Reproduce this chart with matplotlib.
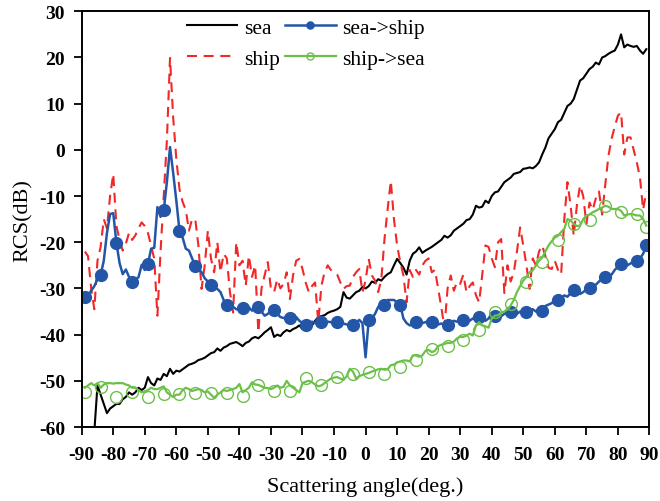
import numpy as np
import matplotlib
matplotlib.use("Agg")
import matplotlib.pyplot as plt

plt.rcParams['font.family'] = ['Liberation Serif', 'DejaVu Serif']
plt.rcParams['axes.unicode_minus'] = False

# scattering angle, 1 degree steps
angle = np.arange(-89, 90)

# RCS of the sea surface alone (dB)
sea = [
    -75, -72, -68, -61, -51, -53, -55, -57, -56, -55.5,      # -89..-80
    -55, -55, -54, -53.5, -52.5, -53, -52.5, -51.5, -52, -51.5,   # -79..-70
    -49.2, -50.5, -51, -49.5, -49.8, -48.5, -49, -47.4, -48.5, -47.8,  # -69..-60
    -48, -47.5, -47, -46.5, -46.3, -46, -45.5, -45.3, -45, -44.5,  # -59..-50
    -44, -43.8, -43, -43.5, -42.8, -42.5, -42, -41.8, -41.6, -42,  # -49..-40
    -42.5, -41.8, -41.5, -40.8, -40.5, -40.8, -40.2, -39.5, -39, -38.4,  # -39..-30
    -40.5, -40, -40.3, -39.5, -39, -39.3, -38.8, -38.5, -38, -38.8,  # -29..-20
    -37.5, -37, -38, -37, -36.2, -36, -35.8, -35.3, -35, -34.8,  # -19..-10
    -34.5, -34, -30.8, -32, -32.2, -31.5, -30.8, -30.5, -29.7, -30,  # -9..0
    -29.5, -28.5, -28.8, -28, -28.3, -27.5, -26.9, -26.5, -25, -23.6,  # 1..10
    -24.5, -25.5, -27, -24, -22.5, -22, -21.1, -22.3, -21.8, -21.4,  # 11..20
    -21, -20.5, -20, -19.5, -18.6, -19, -18.5, -17.5, -17, -16.5,  # 21..30
    -16, -15.2, -15, -14, -12.1, -12.5, -12.3, -11, -11.5, -10,  # 31..40
    -9.2, -9, -8, -7, -6.5, -6, -5.2, -5, -4.8, -4.1,  # 41..50
    -4, -3.8, -4, -3.5, -2.7, -1, 0.5, 2.5, 3.5, 4.5,  # 51..60
    6, 6.5, 8, 9.5, 10, 11, 13, 15, 15.5, 16.5,  # 61..70
    17.5, 18, 18.9, 18.5, 20, 20.3, 20.8, 21.2, 21.5, 22.8,  # 71..80
    25, 22.2, 22.8, 22.5, 22.3, 22.5, 21.5, 20.8, 21.8,  # 81..89
]

# RCS of the ship alone (dB)
ship = [
    -22, -23, -30, -34.5, -24, -21, -15, -17, -10, -5.2,  # -89..-80
    -16.4, -19.5, -21.8, -20.3, -18, -19.5, -18.5, -17, -15.7, -16.5,  # -79..-70
    -18, -20.7, -23.6, -35.9, -22, -10, 2, 19.9, 7, -2,  # -69..-60
    -8.5, -11.3, -13, -17.5, -15, -15, -20.7, -30.1, -25, -17.5,  # -59..-50
    -23.6, -26.5, -20, -26.5, -22.5, -23.5, -30.8, -35.2, -20, -25,  # -49..-40
    -24, -29.4, -22.9, -27.5, -25, -39.5, -30, -27.2, -24.3, -30.1,  # -39..-30
    -30.8, -28, -30, -29, -26.5, -32.3, -27.2, -24, -23.6, -25.8,  # -29..-20
    -28.7, -30.8, -29.5, -28.7, -37.3, -29.4, -26.5, -25, -26, -26.5,  # -19..-10
    -27, -28.7, -30.1, -29.5, -29.4, -27.5, -26.5, -25.8, -30.8, -28.3,  # -9..0
    -23.6, -27.2, -28.3, -30.8, -28, -19.3, -12.8, -6.7, -15, -20.7,  # 1..10
    -24.3, -27.2, -33, -26, -27.5, -26, -27, -25, -24, -23.5,  # 11..20
    -26.5, -26, -30, -34, -38.5, -30, -27.2, -30.5, -28.5, -29,  # 21..30
    -27, -30.8, -29.5, -28.7, -31.5, -33, -27, -20.7, -21, -23.5,  # 31..40
    -25.4, -20, -19.3, -31, -25, -28.5, -26.5, -22, -16.8, -20.7,  # 41..50
    -25, -30.1, -23.5, -25, -22, -20.7, -23, -25.5, -25.8, -24,  # 51..60
    -26, -27, -15, -7, -12, -18.6, -12, -7.7, -10, -16,  # 61..70
    -11.4, -13, -10.5, -9, -14, -7.5, -1.3, 2.4, 5, 7.4,  # 71..80
    8.1, -1, 2.7, 2.7, 0, -2.7, -6, -13, -9,  # 81..89
]

# sea->ship coupling term (dB)
sea_ship = [
    -31.9, -31.5, -30.5, -29.5, -28, -27.1, -24, -18, -13.9, -13.7,  # -89..-80
    -20.1, -24.5, -26.9, -25.9, -27.5, -28.5, -28, -27.6, -24.9, -26,  # -79..-70
    -24.7, -21.4, -21.2, -12.4, -14.5, -13.1, -7, 0.6, -5, -11,  # -69..-60
    -17.5, -19, -21.4, -21.8, -23.5, -25.1, -25.8, -26.5, -27.8, -28.5,  # -59..-50
    -29.2, -30, -30.1, -30.8, -32.5, -33.6, -33.8, -34, -34.5, -34.6,  # -49..-40
    -34.3, -34.5, -34.1, -34.8, -34.5, -34.1, -35, -35.9, -35.5, -35,  # -39..-30
    -34.6, -35.5, -36.2, -36.4, -36.3, -36.5, -36.5, -36.2, -37, -37.5,  # -29..-20
    -38, -37.5, -37.2, -37.5, -37.4, -37.3, -37.5, -37.2, -37.3, -37.4,  # -19..-10
    -37.3, -37.5, -37.6, -37.8, -37.9, -38, -37.5, -36.8, -37.5, -44.9,  # -9..0
    -36.8, -36.5, -35.5, -34, -33.5, -33.6, -32.5, -32.5, -32.5, -33,  # 1..10
    -33.6, -36.5, -37.5, -38, -37.8, -37.3, -37.2, -37.5, -37.3, -37,  # 11..20
    -37.2, -37.5, -37.8, -37.6, -37.8, -38, -37.5, -37, -37.2, -37,  # 21..30
    -36.8, -36.5, -37, -36.5, -36.8, -36.2, -36.5, -37, -36.5, -35.5,  # 31..40
    -36, -35.5, -36, -35.5, -35.2, -35.2, -35.8, -35.5, -35, -35.3,  # 41..50
    -35.2, -34.8, -34.5, -35, -34.3, -34.8, -33.8, -33.5, -33.2, -32.5,  # 51..60
    -32.6, -32.2, -31.5, -31.8, -31, -30.3, -30.5, -31.2, -30.8, -30.2,  # 61..70
    -30, -29.5, -29.2, -28.5, -28, -27.6, -27.3, -27, -26, -25.3,  # 71..80
    -24.7, -24.8, -25, -24.6, -24.2, -24, -23.5, -22.5, -20.7,  # 81..89
]

# ship->sea coupling term (dB), line
ship_sea = [
    -51.5, -51, -50.5, -51, -50.5, -51.5, -50.8, -50.5, -50.5, -50.6,  # -89..-80
    -50.5, -50.5, -50.5, -50.8, -51, -51.5, -51.5, -52, -52.5, -52.3,  # -79..-70
    -52, -51.5, -51.8, -51.8, -51.5, -51.2, -52.5, -53, -53.5, -53,  # -69..-60
    -53, -52, -51.5, -51.8, -52.2, -52, -51.8, -52, -52.5, -52.3,  # -59..-50
    -53, -53.7, -53, -52.5, -52, -52.2, -52, -51.8, -51.5, -50.7,  # -49..-40
    -52.5, -52, -51.5, -50.3, -50.8, -50.9, -51.2, -51.5, -51.6, -51.8,  # -39..-30
    -51.5, -51, -51.5, -51.3, -50, -51, -51.5, -52, -52.5, -50.5,  # -29..-20
    -50.2, -50, -50.3, -50.8, -51.2, -51, -50.5, -50, -49.5, -49.3,  # -19..-10
    -49.2, -49.5, -49.8, -49, -47.4, -48, -49.5, -49, -48.7, -48.5,  # -9..0
    -48.3, -48, -47.8, -47.5, -47.4, -47.6, -47.5, -46.6, -46.5, -46,  # 1..10
    -45.8, -45.6, -45.6, -45.8, -44.5, -44.5, -44.8, -44.5, -43.5, -43.3,  # 11..20
    -43.8, -43.5, -42.5, -42.2, -42, -41.8, -41.8, -41.5, -40.8, -40.5,  # 21..30
    -40.5, -40.2, -39.8, -40.2, -38, -37.3, -38, -38.2, -38.5, -36.5,  # 31..40
    -35.9, -35.8, -35.2, -35, -34.5, -33.7, -32.5, -30.8, -29.5, -28.3,  # 41..50
    -27.5, -26.5, -26.1, -25, -24, -23.3, -22, -20.7, -19.8, -19,  # 51..60
    -18.6, -17.8, -17.1, -15, -15.3, -16, -16.5, -16.4, -15, -14.2,  # 61..70
    -14, -13.5, -13.2, -12.8, -12.5, -12.1, -12.3, -12.8, -12.8, -12.8,  # 71..80
    -13.2, -14.2, -14, -13.9, -14, -14.2, -14.2, -15, -16.4,  # 81..89
]

# marker angles and the open-circle ship->sea samples
mark_angle = list(range(-89, 87, 5)) + [89]
ship_sea_mk = [
    -52.5, -51.3, -53.5, -52.4, -53.5, -52.8, -52.8, -52.6, -52.7, -52.6,
    -53.2, -51, -52.1, -52.1, -49.4, -51, -49.2, -48.5, -48.1, -48.5,
    -47.1, -45.6, -43.1, -42.4, -41.2, -39.1, -35.2, -33.4, -28.5, -24.2,
    -19.6, -16, -15.1, -12.2, -13.5, -13.9, -16.8,
]

blue = '#2456a8'
green = '#6cc04a'
red = '#f02828'

fig = plt.figure(figsize=(6.6, 5.02), dpi=100)
ax = fig.add_axes([0.1238, 0.1474, 0.8602, 0.8281])

l_sea, = ax.plot(angle, sea, color='black', lw=1.5)
l_ship, = ax.plot(angle, ship, color=red, lw=1.5, dashes=(4.8, 3.2))
l_ss, = ax.plot(angle, sea_ship, color=blue, lw=1.8)
idx = [a + 89 for a in mark_angle]
m_ss, = ax.plot(mark_angle, np.array(sea_ship)[idx], 'o', color=blue, ms=8.5)
l_sh, = ax.plot(angle, ship_sea, color=green, lw=1.6)
m_sh, = ax.plot(mark_angle, ship_sea_mk, 'o', mfc='none', mec=green, mew=1.0, ms=8.5)

ax.set_xlim(-90, 90)
ax.set_ylim(-60, 30)
ax.set_xticks(np.arange(-90, 91, 10))
ax.set_yticks(np.arange(-60, 31, 10))
ax.tick_params(direction='out', length=6, width=1.3, labelsize=14)
ax.tick_params(axis='x', pad=8)
ax.tick_params(axis='y', pad=6)
for lab in ax.get_xticklabels() + ax.get_yticklabels():
    lab.set_fontweight('bold')
for s in ax.spines.values():
    s.set_linewidth(1.4)

ax.set_xlabel('Scattering angle(deg.)', fontsize=16, labelpad=9)
ax.set_ylabel('RCS(dB)', fontsize=16, labelpad=4)

ax.legend([l_sea, l_ship, (l_ss, m_ss), (l_sh, m_sh)],
          ['sea', 'ship', 'sea->ship', 'ship->sea'],
          ncol=2, frameon=False, fontsize=15.5, handlelength=2.35,
          loc='upper left', bbox_to_anchor=(0.185, 0.984),
          borderaxespad=0, borderpad=0, markerscale=0.6,
          columnspacing=0.25, handletextpad=0.3, labelspacing=0.5)

fig.savefig('out.png', dpi=100)
